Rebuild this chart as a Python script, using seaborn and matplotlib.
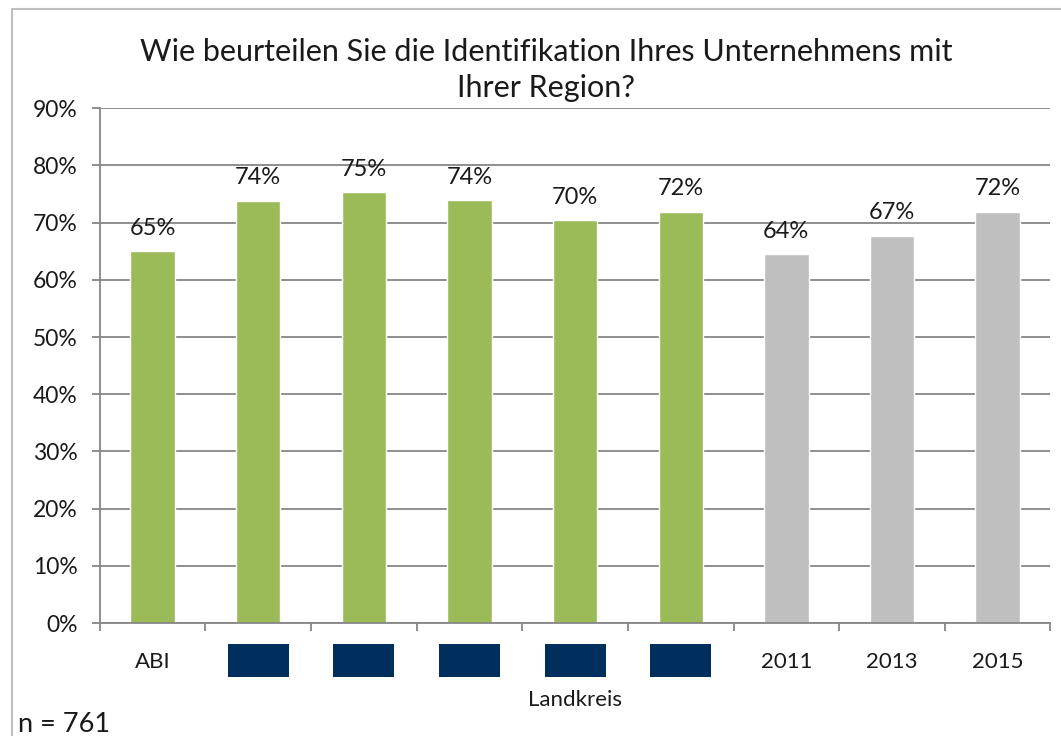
import matplotlib
matplotlib.use("Agg")
import matplotlib.pyplot as plt
import seaborn as sns
import pandas as pd
from matplotlib.patches import Rectangle
from matplotlib.ticker import MultipleLocator, PercentFormatter

categories = ["ABI", "LK1", "LK2", "LK3", "LK4", "LK5", "2011", "2013", "2015"]
values = [65.0, 73.8, 75.3, 73.9, 70.4, 71.9, 64.5, 67.7, 71.9]
labels = ["65%", "74%", "75%", "74%", "70%", "72%", "64%", "67%", "72%"]
tick_labels = ["ABI", "", "", "", "", "", "2011", "2013", "2015"]
redacted = [False, True, True, True, True, True, False, False, False]
colors = ["#9BBB59"] * 6 + ["#BFBFBF"] * 3

sns.set_theme(style="white")
plt.rcParams['font.family'] = ['Lato', 'DejaVu Sans']

df = pd.DataFrame({"cat": categories, "val": values})

fig = plt.figure(figsize=(10.61, 7.36), dpi=100)
ax = fig.add_axes([0.094, 0.1535, 0.896, 0.6995])

sns.barplot(data=df, x="cat", y="val", hue="cat", palette=colors,
            legend=False, width=0.42, ax=ax, saturation=1)

for cont, lab in zip(ax.containers, labels):
    ax.bar_label(cont, labels=[lab], padding=9, fontsize=17, color="#1a1a1a")

ax.set_ylim(0, 90)
ax.set_xlim(-0.5, len(categories) - 0.5)
ax.yaxis.set_major_locator(MultipleLocator(10))
ax.yaxis.set_major_formatter(PercentFormatter(decimals=0))
ax.grid(axis="y", color="#868686", linewidth=1.3)
ax.set_axisbelow(True)

for s in ["top", "right"]:
    ax.spines[s].set_visible(False)
for s in ["left", "bottom"]:
    ax.spines[s].set_color("#868686")
    ax.spines[s].set_linewidth(1.3)

# category boundaries as tick marks, labels centered without marks
ax.set_xticks(range(len(categories)))
ax.set_xticklabels(tick_labels)
ax.set_xticks([i - 0.5 for i in range(len(categories) + 1)], minor=True)
ax.tick_params(axis="x", which="major", length=0, pad=21, labelsize=16, colors="#1a1a1a")
ax.tick_params(axis="x", which="minor", length=6, width=1.3, color="#868686", bottom=True)
ax.tick_params(axis="y", length=6, width=1.3, color="#868686", left=True,
               labelsize=16.5, labelcolor="#1a1a1a", pad=10)

# redacted landkreis names as navy boxes
for i, red in enumerate(redacted):
    if red:
        ax.text(i, -0.073, "\u2007" * 4, transform=ax.get_xaxis_transform(),
                ha="center", va="center", fontsize=15,
                bbox=dict(boxstyle="square,pad=0.3", facecolor="#002F5D",
                          edgecolor="none"))

ax.set_xlabel("Landkreis", fontsize=16, color="#1a1a1a", labelpad=13)
ax.set_ylabel("")

fig.text(0.515, 0.905, "Wie beurteilen Sie die Identifikation Ihres Unternehmens mit\nIhrer Region?",
         ha="center", va="center", fontsize=22, color="#1a1a1a", linespacing=1.35)
fig.text(0.017, 0.016, "n = 761", ha="left", va="center", fontsize=19.5, color="#1a1a1a")

fig.patches.append(Rectangle((0.0113, -0.05), 1.1, 1.038, transform=fig.transFigure,
                             fill=False, edgecolor="#BFBFBF", linewidth=1.5))

fig.savefig("out.png", dpi=100)
